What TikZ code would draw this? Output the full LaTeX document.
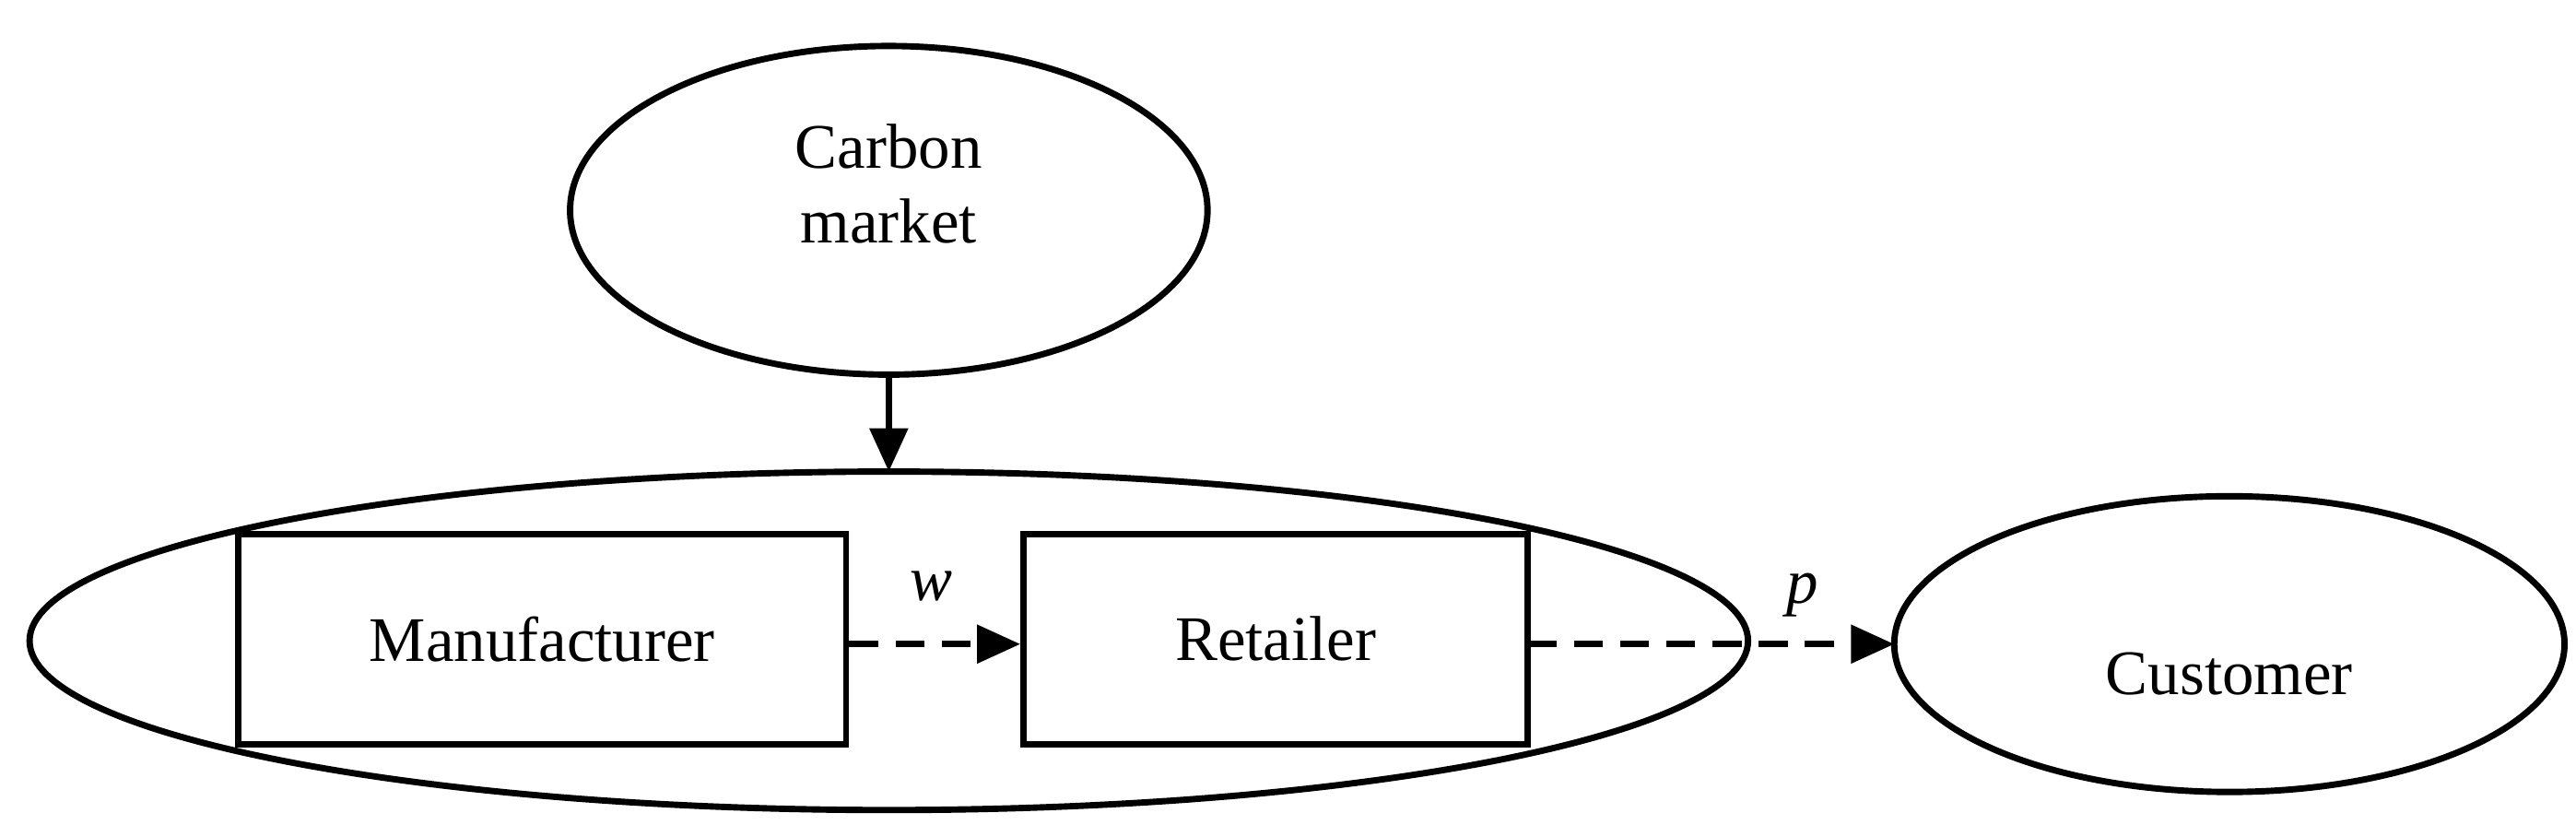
\documentclass[tikz,border=0pt]{standalone}
\usepackage{fontspec}
\setmainfont{Liberation Serif}
\usetikzlibrary{shapes.geometric,arrows.meta}
\begin{document}
\begin{tikzpicture}[x=0.02cm,y=-0.02cm,
  every node/.style={font=\fontsize{22}{26}\selectfont},
  shp/.style={draw,line width=2.2pt},
  box/.style={shp,rectangle,inner sep=0,minimum height=128*0.02cm},
  arr/.style={line width=2.2pt,-{Triangle[length=15pt,width=13pt]}},
  darr/.style={arr,dash pattern=on 10pt off 6pt}]
\useasboundingbox (0,0) rectangle (1568,502);
\draw[shp] (541,128) ellipse [x radius=194,y radius=100];
\node[align=center] (cm) at (541,112) {Carbon\\market};
\coordinate (cmb) at (541,228);
\coordinate (bigt) at (541,287);
\draw[shp] (541,390) ellipse [x radius=523,y radius=103];
\node[box,minimum width=370*0.02cm] (man) at (330,389) {Manufacturer};
\node[box,minimum width=307*0.02cm] (ret) at (776.5,389) {Retailer};
\draw[shp] (1357,392) ellipse [x radius=204,y radius=90];
\node (ct) at (1357,410) {Customer};
\coordinate (r2) at (930,392);
\coordinate (c) at (1153,392);
\draw[arr] (cmb) -- (bigt);
\draw[darr] (man.east |- 0,392) -- (ret.west |- 0,392);
\draw[darr] (r2) -- (c);
\node (w) at (567,357) {\itshape w};
\node (p) at (1097,362) {\itshape p};
\end{tikzpicture}
\end{document}
